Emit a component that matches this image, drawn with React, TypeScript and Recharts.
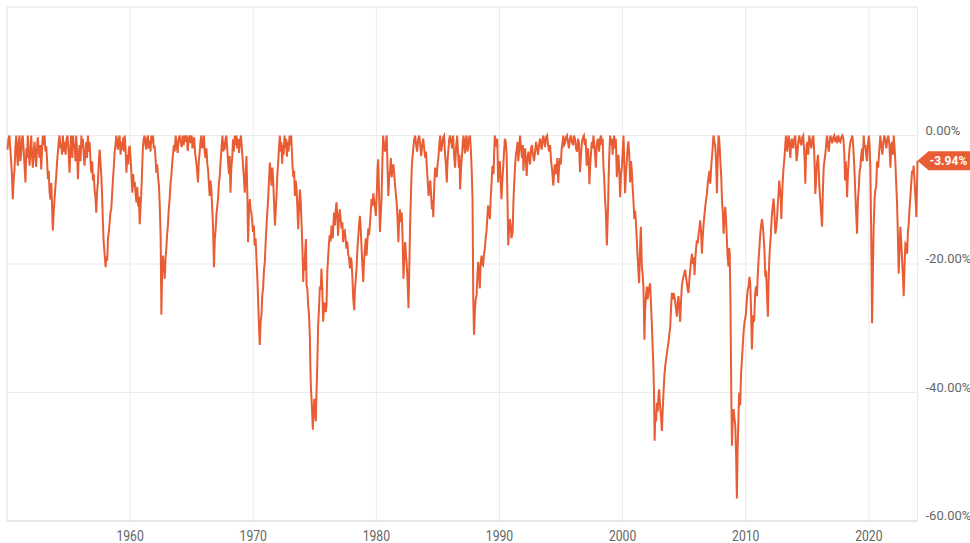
import React from 'react';
import { LineChart, Line, XAxis, YAxis, CartesianGrid, ReferenceLine, ReferenceDot } from 'recharts';

// drawdown from previous high, % — [decimal year, value]
const d1950s: [number, number][] = [
  [1950.04, -2.2], [1950.12, -0.5], [1950.2, 0], [1950.3, -3], [1950.4, -6], [1950.47, -9.9], [1950.54, -7],
  [1950.61, -5.3], [1950.68, -2], [1950.75, 0], [1950.82, -3], [1950.88, -4.7], [1950.95, -1], [1951.02, 0],
  [1951.08, -4], [1951.15, -3], [1951.22, -0.5], [1951.28, 0], [1951.36, -2.5], [1951.43, -5], [1951.5, -7.3],
  [1951.57, -2], [1951.63, -3.5], [1951.69, 0], [1951.76, -2], [1951.83, -4.7], [1951.9, -2.8], [1951.97, 0],
  [1952.03, -3], [1952.1, -5], [1952.17, -2.5], [1952.24, -1], [1952.3, -3], [1952.37, -4.9], [1952.44, -2],
  [1952.5, -0.3], [1952.57, -2.2], [1952.64, -3.5], [1952.71, -1.5], [1952.78, -5.3], [1952.85, -2], [1952.91, 0],
  [1952.98, -1.5], [1953.05, 0], [1953.12, -2.5], [1953.19, -1.7], [1953.26, -4], [1953.32, -6.8], [1953.39, -5.5],
  [1953.46, -8.9], [1953.53, -10], [1953.6, -7.4], [1953.66, -11], [1953.72, -14.8], [1953.79, -12], [1953.86, -9.9],
  [1953.93, -8], [1954.0, -6.3], [1954.07, -4], [1954.14, -2.5], [1954.2, -1], [1954.27, 0], [1954.34, -2],
  [1954.41, -1.2], [1954.47, -3], [1954.54, 0], [1954.6, -2.5], [1954.68, -1], [1954.76, -3], [1954.84, -0.5],
  [1954.92, 0], [1955.0, -2.5], [1955.08, -5.8], [1955.15, -2], [1955.2, 0], [1955.25, -1], [1955.31, -3.5],
  [1955.37, 0], [1955.43, -2], [1955.49, -1.2], [1955.56, -4], [1955.62, 0], [1955.69, -2.5], [1955.76, -6.8],
  [1955.83, -3], [1955.9, -1.5], [1955.97, -4], [1956.04, 0], [1956.1, -2], [1956.17, -0.5], [1956.23, -3],
  [1956.3, -4.7], [1956.37, -2.5], [1956.44, -1], [1956.5, -3.5], [1956.57, 0], [1956.64, -2.5], [1956.71, -1],
  [1956.78, -4], [1956.85, -5.8], [1956.92, -4], [1956.98, -7], [1957.05, -6], [1957.11, -8.4], [1957.18, -9.5],
  [1957.25, -12], [1957.31, -9], [1957.38, -7.4], [1957.45, -4.5], [1957.52, -2.2], [1957.59, -4], [1957.66, -6.3],
  [1957.72, -9], [1957.78, -13], [1957.85, -16.6], [1957.93, -18.5], [1958.01, -20.5], [1958.08, -18.8],
  [1958.14, -19.5], [1958.2, -16.1], [1958.27, -15], [1958.34, -13.5], [1958.4, -12], [1958.47, -11.4],
  [1958.54, -9], [1958.6, -7], [1958.67, -5], [1958.74, -2.7], [1958.81, -1.5], [1958.88, 0], [1958.95, -1.5],
  [1959.01, -2.2], [1959.08, -0.5], [1959.15, 0], [1959.22, -3], [1959.3, -1], [1959.37, -2.2], [1959.44, -0.3],
  [1959.5, -2.5], [1959.56, 0], [1959.63, -2], [1959.7, -5.8], [1959.77, -3], [1959.84, -4.5], [1959.9, -2],
  [1959.97, -1.6],
];

const d1960s: [number, number][] = [
  [1960.05, -4], [1960.12, -6.5], [1960.18, -8.9], [1960.25, -6], [1960.31, -8], [1960.37, -7.2], [1960.44, -9],
  [1960.51, -10.4], [1960.58, -8], [1960.65, -11], [1960.71, -9.5], [1960.78, -13.8], [1960.85, -11], [1960.91, -8.9],
  [1960.98, -5], [1961.04, -1.7], [1961.11, -0.5], [1961.18, 0], [1961.25, -1.5], [1961.32, -2.2], [1961.38, -0.5],
  [1961.45, 0], [1961.52, -2], [1961.59, -0.8], [1961.66, -2.5], [1961.72, 0], [1961.79, -1.2], [1961.86, 0],
  [1961.92, -2], [1961.99, -1.6], [1962.06, -3.5], [1962.13, -5.8], [1962.2, -4.5], [1962.27, -6.5], [1962.34, -7.8],
  [1962.41, -11], [1962.48, -16], [1962.54, -27.9], [1962.6, -21], [1962.67, -18.7], [1962.74, -20.5],
  [1962.81, -22.3], [1962.88, -19], [1962.94, -17.6], [1963.0, -15.5], [1963.07, -14], [1963.14, -11.5],
  [1963.21, -9.9], [1963.28, -7.5], [1963.35, -6.3], [1963.41, -4.5], [1963.48, -3], [1963.55, -1.5], [1963.62, -2.5],
  [1963.7, 0], [1963.78, -1.5], [1963.86, -2.7], [1963.94, -0.5], [1964.02, 0], [1964.1, -1], [1964.19, -1.8],
  [1964.27, 0], [1964.35, -1.5], [1964.43, 0], [1964.51, -1], [1964.6, 0], [1964.68, -2.4], [1964.76, -0.5],
  [1964.84, 0], [1964.92, -1.2], [1965.0, 0], [1965.06, -2], [1965.11, -1.5], [1965.2, -0.3], [1965.27, -2.5],
  [1965.33, -3.5], [1965.42, -5], [1965.51, -7.3], [1965.58, -4], [1965.65, -2.5], [1965.72, -0.8], [1965.79, 0],
  [1965.86, -2], [1965.94, -1.2], [1966.0, 0], [1966.06, -2.7], [1966.13, -3.5], [1966.2, -2], [1966.27, -4.5],
  [1966.33, -5.3], [1966.4, -7.5], [1966.46, -9.4], [1966.53, -7], [1966.6, -8.4], [1966.66, -11], [1966.73, -14],
  [1966.81, -20.5], [1966.88, -16], [1966.95, -14.5], [1967.02, -12], [1967.08, -11], [1967.14, -9.9],
  [1967.21, -7.5], [1967.28, -6.3], [1967.35, -4], [1967.42, -2], [1967.5, 0], [1967.57, -2.5], [1967.62, -1],
  [1967.68, -2.2], [1967.75, -0.5], [1967.82, 0], [1967.9, -2.5], [1967.97, -4.5], [1968.03, -6], [1968.09, -3.2],
  [1968.15, -8.9], [1968.22, -5], [1968.29, -3.5], [1968.36, -0.6], [1968.43, -2.5], [1968.5, 0], [1968.57, -1.5],
  [1968.64, 0], [1968.7, -2], [1968.78, -0.5], [1968.85, -2.7], [1968.92, -1], [1969.0, 0], [1969.08, -2],
  [1969.17, -4.7], [1969.24, -6.5], [1969.31, -8.9], [1969.38, -6], [1969.45, -3.2], [1969.52, -9], [1969.58, -16.6],
  [1969.65, -12], [1969.72, -9.9], [1969.78, -11.5], [1969.85, -12], [1969.92, -13.5],
];

const d1970s: [number, number][] = [
  [1969.98, -15], [1970.05, -14], [1970.12, -17.1], [1970.19, -16], [1970.26, -19.2], [1970.33, -22],
  [1970.39, -25.3], [1970.47, -30], [1970.53, -32.6], [1970.6, -29], [1970.67, -27.9], [1970.73, -25],
  [1970.8, -23.8], [1970.87, -21], [1970.94, -19.7], [1971.01, -16.5], [1971.08, -14], [1971.14, -12],
  [1971.21, -9.9], [1971.28, -7], [1971.35, -4.2], [1971.42, -6], [1971.49, -7.8], [1971.55, -5], [1971.62, -7],
  [1971.69, -10.5], [1971.76, -14], [1971.83, -11.5], [1971.9, -9], [1971.96, -6], [1972.02, -4.4], [1972.09, -2],
  [1972.16, 0], [1972.22, -2.5], [1972.28, -1], [1972.35, -4.4], [1972.41, -1.5], [1972.47, -3], [1972.54, 0],
  [1972.6, -2], [1972.67, -0.5], [1972.73, -3.3], [1972.8, -1], [1972.87, -2.5], [1972.95, 0], [1973.02, -1.5],
  [1973.08, 0], [1973.14, -2.5], [1973.19, -4.7], [1973.25, -6.5], [1973.32, -5.5], [1973.38, -9.4], [1973.45, -7],
  [1973.52, -8.4], [1973.58, -11], [1973.65, -14.6], [1973.72, -11], [1973.79, -8.4], [1973.86, -10.5],
  [1973.93, -14], [1974.0, -18], [1974.06, -22.8], [1974.11, -19], [1974.16, -21], [1974.22, -18], [1974.28, -16.1],
  [1974.33, -23.3], [1974.4, -24], [1974.46, -26.4], [1974.53, -28], [1974.6, -31.5], [1974.64, -36], [1974.68, -39],
  [1974.76, -42], [1974.84, -45.8], [1974.9, -43], [1974.96, -41], [1975.02, -43], [1975.08, -44.5], [1975.14, -40],
  [1975.2, -36], [1975.27, -29.5], [1975.34, -27], [1975.41, -23.5], [1975.48, -24], [1975.54, -20.7], [1975.61, -24],
  [1975.68, -29], [1975.74, -26.5], [1975.81, -26], [1975.88, -27.5], [1975.95, -26.4], [1976.02, -21],
  [1976.08, -19], [1976.14, -17.1], [1976.21, -15.5], [1976.28, -16.5], [1976.36, -14], [1976.46, -16],
  [1976.52, -13.5], [1976.57, -12], [1976.64, -14], [1976.7, -11.5], [1976.76, -10.4], [1976.83, -12.5],
  [1976.89, -15.6], [1976.96, -13], [1977.03, -11.5], [1977.1, -13], [1977.17, -14.5], [1977.24, -13.5],
  [1977.3, -16.6], [1977.37, -15], [1977.44, -14.8], [1977.5, -16], [1977.57, -17.6], [1977.64, -16.5],
  [1977.71, -18.5], [1977.78, -19], [1977.85, -20.7], [1977.91, -19], [1977.98, -19.5], [1978.05, -22],
  [1978.12, -25.4], [1978.2, -27.2], [1978.26, -24], [1978.32, -22.5], [1978.39, -20.7], [1978.45, -18],
  [1978.52, -16], [1978.59, -14], [1978.66, -12.5], [1978.73, -14.5], [1978.8, -17.6], [1978.86, -20],
  [1978.93, -22.8], [1979.0, -19.5], [1979.07, -17.6], [1979.14, -16], [1979.2, -18.7], [1979.27, -16.5],
  [1979.34, -14.5], [1979.4, -15.5], [1979.47, -14], [1979.54, -12], [1979.61, -9.9], [1979.68, -11], [1979.75, -9],
  [1979.81, -10], [1979.88, -11], [1979.96, -12.5],
];

const d1980s: [number, number][] = [
  [1980.05, -8], [1980.1, -5], [1980.15, -3.7], [1980.22, -9], [1980.29, -15], [1980.35, -12.5], [1980.42, -9.9],
  [1980.49, -4], [1980.55, 0], [1980.62, -2], [1980.7, -2.5], [1980.77, -1], [1980.84, 0], [1980.9, -4.5],
  [1980.97, -9.4], [1981.04, -6.5], [1981.11, -5.5], [1981.18, -3.5], [1981.25, -6.5], [1981.31, -5], [1981.38, -4.5],
  [1981.45, -6], [1981.52, -7.8], [1981.58, -9], [1981.65, -10.5], [1981.72, -13], [1981.79, -16.6], [1981.85, -13],
  [1981.91, -11.5], [1981.98, -13.5], [1982.06, -12], [1982.13, -16], [1982.2, -22.3], [1982.27, -19],
  [1982.34, -16.6], [1982.4, -18.5], [1982.47, -20.2], [1982.54, -23], [1982.61, -26.9], [1982.67, -21],
  [1982.74, -14], [1982.81, -9], [1982.88, -4.7], [1982.95, -3], [1983.01, -1.7], [1983.08, -0.5], [1983.15, 0],
  [1983.23, -1.5], [1983.31, -2.5], [1983.4, -0.5], [1983.48, 0], [1983.56, -1.5], [1983.64, -3.2], [1983.72, -1.5],
  [1983.8, -0.5], [1983.88, -2], [1983.97, -3.5], [1984.03, -2.5], [1984.1, -5], [1984.17, -7], [1984.24, -9.4],
  [1984.31, -8], [1984.38, -7], [1984.44, -9], [1984.51, -11.5], [1984.57, -10], [1984.62, -12.7], [1984.7, -8],
  [1984.77, -5], [1984.84, -6], [1984.9, -6.5], [1984.97, -4.5], [1985.04, -3.4], [1985.11, -1.5], [1985.18, 0],
  [1985.26, -2.5], [1985.34, -1.5], [1985.42, -0.3], [1985.5, 0], [1985.58, -3], [1985.65, -4.5], [1985.72, -7.3],
  [1985.78, -4], [1985.85, -2.2], [1985.92, -0.5], [1985.99, 0], [1986.07, -1], [1986.15, -2], [1986.23, 0],
  [1986.31, -3], [1986.39, -5], [1986.47, -2], [1986.56, 0], [1986.63, -2.5], [1986.7, -5], [1986.75, -3],
  [1986.8, -8.4], [1986.88, -5], [1986.96, -3], [1987.02, -1], [1987.08, 0], [1987.14, -1.5], [1987.2, -2.8],
  [1987.27, -0.5], [1987.33, 0], [1987.4, -2.5], [1987.47, -1.5], [1987.54, -0.3], [1987.6, 0], [1987.67, -2],
  [1987.74, -5.3], [1987.81, -10], [1987.87, -25.4], [1987.93, -31], [1988.01, -27], [1988.07, -25.5],
  [1988.14, -24.9], [1988.2, -22], [1988.27, -19.7], [1988.34, -21.5], [1988.4, -23.8], [1988.47, -20],
  [1988.54, -18.7], [1988.6, -20], [1988.67, -20.2], [1988.74, -18.5], [1988.81, -17.6], [1988.88, -16],
  [1988.95, -14.8], [1989.02, -12.5], [1989.08, -10.9], [1989.15, -12], [1989.22, -13], [1989.28, -10],
  [1989.34, -8], [1989.43, -4.7], [1989.52, -6], [1989.57, -2.5], [1989.62, 0], [1989.69, -1], [1989.76, -1.8],
  [1989.82, -0.5], [1989.89, -7.3], [1989.95, -5.5],
];

const d1990s: [number, number][] = [
  [1990.03, -4], [1990.1, -7], [1990.16, -9.9], [1990.23, -7], [1990.3, -5], [1990.37, -2.5], [1990.44, -0.5],
  [1990.51, -1], [1990.58, -3], [1990.64, -9], [1990.71, -17.1], [1990.78, -14.5], [1990.85, -13], [1990.91, -14],
  [1990.97, -16], [1991.07, -15], [1991.12, -11], [1991.18, -8], [1991.26, -5], [1991.33, -3], [1991.4, -2.2],
  [1991.47, -1], [1991.53, -4], [1991.6, -2], [1991.67, 0], [1991.75, -2], [1991.83, -3.5], [1991.9, -1.5],
  [1991.94, -5.5], [1992.01, -3], [1992.08, -2], [1992.14, -4], [1992.21, -6.3], [1992.28, -3.5], [1992.35, -2.5],
  [1992.41, -3.5], [1992.48, -4.5], [1992.56, -2], [1992.64, -1.5], [1992.72, -3], [1992.81, -4], [1992.89, -2.5],
  [1992.97, -1], [1993.05, -2], [1993.13, -3], [1993.21, -1.5], [1993.29, -0.5], [1993.36, -1.5], [1993.43, -2.2],
  [1993.5, -0.5], [1993.57, 0], [1993.63, -1], [1993.7, -1.8], [1993.78, -0.3], [1993.87, 0], [1993.95, -1.5],
  [1994.03, -2.5], [1994.11, -1.5], [1994.19, -4], [1994.28, -5.5], [1994.37, -7.8], [1994.44, -5.5], [1994.5, -4.5],
  [1994.57, -6], [1994.64, -5], [1994.7, -3.5], [1994.77, -7.4], [1994.84, -5], [1994.91, -3.5], [1994.98, -4.5],
  [1995.05, -2], [1995.12, -1], [1995.18, 0], [1995.25, -1.5], [1995.32, -1.2], [1995.4, -0.3], [1995.48, 0],
  [1995.56, -1], [1995.64, -2], [1995.72, -0.5], [1995.8, 0], [1995.88, -1], [1995.97, -1.5], [1996.05, 0],
  [1996.13, -0.5], [1996.21, -2], [1996.3, -2.5], [1996.38, -0.5], [1996.46, -1.2], [1996.54, -5.7], [1996.62, -3],
  [1996.7, -1], [1996.78, -0.3], [1996.86, 0], [1996.93, -1.5], [1997.0, -0.5], [1997.08, -4.7], [1997.14, -3],
  [1997.19, -2], [1997.25, -4], [1997.3, -7.6], [1997.37, -4.5], [1997.44, -2.5], [1997.5, -1], [1997.56, -2],
  [1997.63, 0], [1997.7, -1.5], [1997.76, -3], [1997.83, -5], [1997.88, -2], [1997.93, -1], [1998.0, -0.5],
  [1998.09, -2.5], [1998.17, -0.5], [1998.25, 0], [1998.32, -1.5], [1998.38, -0.5], [1998.44, -4.7], [1998.5, -6.5],
  [1998.57, -9.9], [1998.64, -12], [1998.72, -17.1], [1998.77, -14], [1998.82, -11], [1998.86, -7], [1998.9, -4],
  [1998.98, 0], [1999.06, -1.5], [1999.12, -0.5], [1999.19, -3], [1999.25, -1], [1999.31, 0], [1999.38, -2],
  [1999.45, -0.5], [1999.53, -6.5], [1999.6, -4.5], [1999.66, -3], [1999.73, -5.5], [1999.8, -9.6], [1999.87, -6],
  [1999.94, -5],
];

const d2000s: [number, number][] = [
  [2000.02, -2], [2000.07, 0], [2000.13, -4], [2000.2, -9], [2000.27, -6], [2000.34, -4], [2000.4, -2],
  [2000.47, -0.9], [2000.54, -3], [2000.61, -7.3], [2000.68, -4], [2000.75, -5.5], [2000.81, -8], [2000.88, -10.1],
  [2000.95, -13], [2001.02, -11.7], [2001.08, -13.5], [2001.15, -16.3], [2001.22, -19], [2001.28, -21],
  [2001.34, -23], [2001.41, -18], [2001.48, -14.2], [2001.52, -17], [2001.56, -20.4], [2001.62, -21.5],
  [2001.69, -23.5], [2001.73, -27], [2001.77, -31.8], [2001.83, -27], [2001.9, -25], [2001.97, -23.5],
  [2002.03, -25.5], [2002.1, -24.5], [2002.17, -23.5], [2002.24, -23], [2002.3, -26], [2002.37, -29.2],
  [2002.44, -33], [2002.5, -36], [2002.55, -40], [2002.6, -47.5], [2002.66, -43], [2002.72, -44.5], [2002.78, -41.6],
  [2002.85, -43], [2002.91, -40.5], [2002.97, -39.5], [2003.04, -42], [2003.11, -43.5], [2003.19, -46],
  [2003.25, -43], [2003.32, -40], [2003.39, -37.5], [2003.46, -35.9], [2003.52, -35], [2003.59, -34], [2003.66, -33],
  [2003.72, -32.3], [2003.79, -31], [2003.86, -30], [2003.93, -27], [2004.0, -24.5], [2004.07, -25.5],
  [2004.13, -24.5], [2004.2, -25], [2004.27, -26], [2004.34, -27], [2004.41, -28.2], [2004.47, -26], [2004.54, -25],
  [2004.61, -27], [2004.67, -29], [2004.74, -26], [2004.81, -23.5], [2004.88, -22.5], [2004.94, -22],
  [2005.01, -21.5], [2005.08, -20.9], [2005.15, -22], [2005.22, -23], [2005.29, -24], [2005.35, -24.5],
  [2005.42, -22.5], [2005.49, -21], [2005.56, -19.5], [2005.63, -18.4], [2005.68, -19.5], [2005.73, -20],
  [2005.79, -19], [2005.84, -21.7], [2005.91, -19], [2005.97, -17.5], [2006.03, -16.3], [2006.1, -16.8],
  [2006.16, -15.5], [2006.23, -14.5], [2006.3, -13.2], [2006.37, -15], [2006.44, -18.4], [2006.5, -16],
  [2006.57, -14], [2006.64, -12.5], [2006.71, -11.1], [2006.78, -10], [2006.85, -9], [2006.91, -7.5],
  [2006.98, -6.5], [2007.05, -5.5], [2007.12, -7.5], [2007.2, -4.7], [2007.27, -3], [2007.33, -1.5], [2007.38, 0],
  [2007.45, -1], [2007.52, -1.5], [2007.59, -4], [2007.66, -9], [2007.72, -4], [2007.79, 0], [2007.84, -0.5],
  [2007.89, -2], [2007.95, -4.5], [2008.01, -6.4], [2008.08, -10.5], [2008.14, -12], [2008.2, -15.3],
  [2008.27, -13], [2008.33, -11.1], [2008.4, -13], [2008.47, -16.3], [2008.53, -19], [2008.6, -20.4],
  [2008.65, -17.5], [2008.7, -18.4], [2008.76, -26], [2008.82, -39], [2008.88, -48.3], [2008.94, -44],
  [2009.01, -42.6], [2009.08, -44], [2009.15, -45.2], [2009.22, -50], [2009.28, -56.5], [2009.33, -50],
  [2009.37, -46.7], [2009.42, -43], [2009.47, -40], [2009.55, -42], [2009.62, -37], [2009.69, -34.9], [2009.75, -33],
  [2009.82, -30.7], [2009.9, -29], [2009.96, -28.5],
];

const d2010s: [number, number][] = [
  [2010.02, -27.6], [2010.09, -25.5], [2010.16, -24], [2010.23, -23.5], [2010.3, -22], [2010.37, -23.2],
  [2010.43, -27], [2010.5, -33.3], [2010.56, -30], [2010.61, -28], [2010.68, -29], [2010.77, -24.5],
  [2010.84, -23.5], [2010.91, -25], [2010.97, -22], [2011.04, -19.4], [2011.11, -17.5], [2011.18, -15.3],
  [2011.25, -14], [2011.32, -13], [2011.38, -14], [2011.45, -15.6], [2011.52, -18], [2011.59, -22], [2011.65, -21],
  [2011.72, -24.5], [2011.8, -28.2], [2011.85, -23], [2011.91, -19.4], [2011.98, -17], [2012.04, -15.5],
  [2012.07, -14.2], [2012.14, -12], [2012.2, -11], [2012.26, -9.8], [2012.33, -12], [2012.4, -15.3], [2012.47, -14.5],
  [2012.54, -13], [2012.61, -10.5], [2012.67, -9], [2012.72, -7], [2012.79, -8.5], [2012.85, -10], [2012.89, -13],
  [2012.94, -10], [2012.99, -7.6], [2013.07, -5], [2013.15, -3.4], [2013.21, -1.5], [2013.27, 0], [2013.32, -1],
  [2013.37, -2.5], [2013.43, -1], [2013.5, 0], [2013.56, -1.5], [2013.62, -3.5], [2013.68, -1.5], [2013.74, -0.5],
  [2013.8, -1.5], [2013.86, -2], [2013.94, -0.5], [2014.02, 0], [2014.08, -2], [2014.13, -4], [2014.19, -3],
  [2014.27, -1], [2014.35, 0], [2014.43, -1], [2014.51, -1.5], [2014.59, -0.3], [2014.67, 0], [2014.73, -2],
  [2014.79, -4], [2014.84, -7.5], [2014.9, -3], [2014.95, -1.5], [2015.0, -1], [2015.08, -3], [2015.16, 0],
  [2015.24, -1], [2015.33, -2], [2015.41, -0.5], [2015.49, 0], [2015.55, -2], [2015.6, -5], [2015.65, -9.1],
  [2015.71, -7], [2015.76, -5], [2015.81, -4], [2015.87, -3], [2015.92, -5], [2015.98, -8], [2016.05, -10],
  [2016.12, -12], [2016.2, -14.2], [2016.26, -9], [2016.33, -5], [2016.39, -4], [2016.46, -3], [2016.53, -1.5],
  [2016.6, 0], [2016.67, -1.5], [2016.75, -2.5], [2016.81, -1], [2016.87, 0], [2016.95, -0.5], [2017.03, -1.2],
  [2017.11, -0.3], [2017.19, 0], [2017.27, -1], [2017.36, -0.5], [2017.44, -1.2], [2017.52, 0], [2017.6, -0.8],
  [2017.68, -1], [2017.76, -0.3], [2017.85, 0], [2017.93, -0.5], [2018.01, -3], [2018.07, -7], [2018.12, -4],
  [2018.18, -6], [2018.23, -9.6], [2018.3, -6], [2018.36, -4], [2018.43, -2], [2018.5, -1], [2018.58, -0.5],
  [2018.66, 0], [2018.74, -2], [2018.82, -5], [2018.88, -8], [2018.94, -11], [2019.04, -15.3], [2019.11, -10],
  [2019.19, -8], [2019.25, -5.5], [2019.31, -5], [2019.38, -3], [2019.45, -2], [2019.51, -4], [2019.58, 0],
  [2019.65, -2], [2019.72, -1.5], [2019.78, -3], [2019.85, -4], [2019.92, -1.5],
];

const d2020s: [number, number][] = [
  [2020.0, 0], [2020.06, -1.5], [2020.12, -5], [2020.2, -16.8], [2020.26, -29.2], [2020.32, -22], [2020.39, -14.2],
  [2020.46, -10], [2020.52, -8.5], [2020.59, -8], [2020.67, -4], [2020.75, -5], [2020.84, -2.5], [2020.93, 0],
  [2021.01, -1.5], [2021.1, -3], [2021.18, -1], [2021.26, 0], [2021.34, -1], [2021.42, -2], [2021.5, -0.5],
  [2021.59, 0], [2021.67, -1.5], [2021.75, -5], [2021.81, -2], [2021.87, -1], [2021.95, -3], [2022.02, 0],
  [2022.09, -2], [2022.15, -4], [2022.22, -7.5], [2022.29, -10.6], [2022.35, -15], [2022.42, -21.5], [2022.49, -18],
  [2022.56, -14.2], [2022.63, -16.5], [2022.7, -19.4], [2022.77, -22], [2022.83, -25], [2022.9, -20],
  [2022.97, -16.8], [2023.04, -17], [2023.11, -18.4], [2023.17, -15], [2023.24, -13.7], [2023.3, -11.5],
  [2023.37, -9.6], [2023.44, -7.5], [2023.51, -5.5], [2023.57, -6], [2023.64, -4.7], [2023.7, -6.8], [2023.75, -8.5],
  [2023.81, -10.5], [2023.86, -12.7], [2023.95, -3.94],
];

const yearTicks = [1960, 1970, 1980, 1990, 2000, 2010, 2020];
const pctTicks = [0, -20, -40, -60];

const data = [...d1950s, ...d1960s, ...d1970s, ...d1980s, ...d1990s, ...d2000s, ...d2010s, ...d2020s].map(
  ([year, drawdown]) => ({ year, drawdown })
);
const last = data[data.length - 1];
const xMin = 1950;
const xMax = last.year;

const LINE = '#e85d33';
const GRID = '#ebebeb';

const YearTick = ({ x, y, payload }: any) => (
  <g transform={`translate(${x},${y})`}>
    <text y={20} textAnchor="middle" fill="#666" fontSize={14} transform="scale(0.87,1)">
      {payload.value}
    </text>
  </g>
);

const PctTick = ({ x, y, payload }: any) => (
  <text x={x} y={y - 1} textAnchor="start" fill="#666" fontSize={13}>
    {Number(payload.value).toFixed(2)}%
  </text>
);

const Badge = ({ cx, cy }: any) => (
  <g>
    <path
      d={`M${cx},${cy} L${cx + 11},${cy - 9.5} L${cx + 60},${cy - 9.5} L${cx + 60},${cy + 9.5} L${cx + 11},${cy + 9.5} Z`}
      fill={LINE}
    />
    <text x={cx + 12} y={cy + 4.3} fill="#fff" fontSize={12} fontWeight={700}>
      {last.drawdown.toFixed(2)}%
    </text>
  </g>
);

export default function App() {
  return (
    <div style={{ position: 'absolute', left: 0, top: 0, width: 970, height: 543, background: '#fff', fontFamily: 'Roboto, sans-serif' }}>
      <LineChart width={970} height={543} data={data} margin={{ top: 7, right: 0, bottom: 0, left: 7 }}>
        <CartesianGrid stroke={GRID} />
        <XAxis
          dataKey="year"
          type="number"
          domain={[xMin, xMax]}
          ticks={yearTicks}
          interval={0}
          height={22}
          tickLine={false}
          tickSize={0}
          tickMargin={0}
          axisLine={{ stroke: '#d9d9d9' }}
          tick={<YearTick />}
        />
        <YAxis
          orientation="right"
          type="number"
          domain={[-60, 20]}
          ticks={pctTicks}
          interval={0}
          width={52.5}
          axisLine={false}
          tickLine={false}
          tickSize={0}
          tickMargin={8}
          tick={<PctTick />}
        />
        <ReferenceLine x={xMin} stroke={GRID} />
        <ReferenceLine x={xMax} stroke={GRID} />
        <ReferenceLine y={20} stroke={GRID} />
        <Line
          type="linear"
          dataKey="drawdown"
          stroke={LINE}
          strokeWidth={2}
          dot={false}
          activeDot={false}
          isAnimationActive={false}
        />
        <ReferenceDot x={last.year} y={last.drawdown} ifOverflow="visible" shape={<Badge />} />
      </LineChart>
    </div>
  );
}
